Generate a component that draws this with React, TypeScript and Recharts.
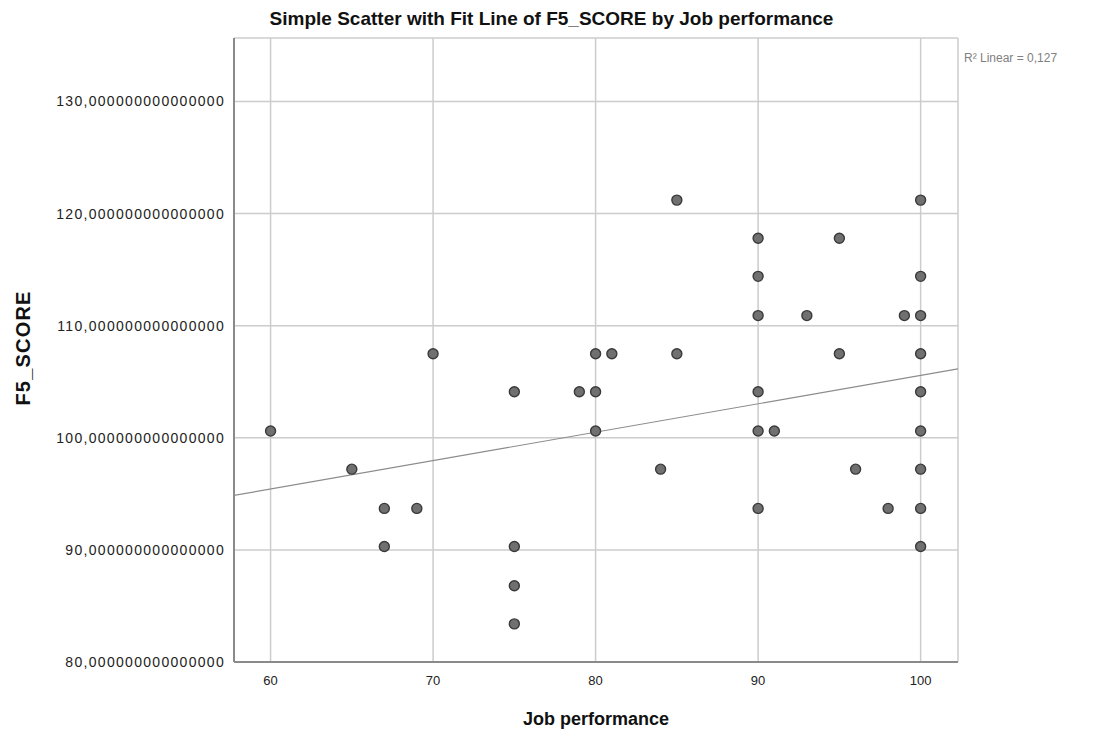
import { CartesianGrid, Scatter, ScatterChart, XAxis, YAxis } from "recharts";

// Job performance (x) and F5_SCORE (y)
const jobPerformance = [
  60, 65, 67, 67, 69, 70, 75, 75, 75, 75, 79, 80, 80, 80, 81, 84, 85, 85,
  90, 90, 90, 90, 90, 90, 91, 93, 95, 95, 96, 98, 99,
  100, 100, 100, 100, 100, 100, 100, 100, 100,
];
const f5Score = [
  100.6, 97.2, 93.7, 90.3, 93.7, 107.5, 104.1, 90.3, 86.8, 83.4, 104.1, 107.5, 104.1, 100.6, 107.5, 97.2, 121.2, 107.5,
  117.8, 114.4, 110.9, 104.1, 100.6, 93.7, 100.6, 110.9, 117.8, 107.5, 97.2, 93.7, 110.9,
  121.2, 114.4, 110.9, 107.5, 104.1, 100.6, 97.2, 93.7, 90.3,
];

// fit line end points
const fitX = [57.75, 102.3];
const fitY = [94.86, 106.15];

const xTicks = [60, 70, 80, 90, 100];
const yTicks = [80, 90, 100, 110, 120, 130];

const points = jobPerformance.map((x, i) => ({ x, y: f5Score[i] }));
const fit = fitX.map((x, i) => ({ x, y: fitY[i] }));

const font = "'Liberation Sans', Arial, sans-serif";

const Dot = (props: { cx?: number; cy?: number }) => {
  const { cx = 0, cy = 0 } = props;
  return <circle cx={cx} cy={cy} r={5} fill="#707070" stroke="#3a3a3a" strokeWidth={1.4} />;
};

export default function App() {
  return (
    <div style={{ position: "absolute", left: 0, top: 0, width: 1103, height: 740, background: "#fff", fontFamily: font }}>
      <div style={{ position: "absolute", left: 0, width: 1103, top: 8, textAlign: "center", fontSize: 19, fontWeight: "bold", color: "#111" }}>
        Simple Scatter with Fit Line of F5_SCORE by Job performance
      </div>
      <div style={{ position: "absolute", left: 964, top: 51, fontSize: 12, color: "#808080" }}>R² Linear = 0,127</div>
      <div
        style={{
          position: "absolute", left: 23, top: 348, transform: "translate(-50%, -50%) rotate(-90deg)",
          fontSize: 20, fontWeight: "bold", color: "#111", whiteSpace: "nowrap", letterSpacing: 1.2,
        }}
      >
        F5_SCORE
      </div>
      <div style={{ position: "absolute", left: 596, top: 709, transform: "translateX(-50%)", fontSize: 18, fontWeight: "bold", color: "#111", whiteSpace: "nowrap" }}>
        Job performance
      </div>
      <ScatterChart width={1103} height={740} margin={{ top: 38, right: 145, bottom: 38, left: 0 }}>
        <CartesianGrid stroke="#cccccc" strokeWidth={1.5} />
        <XAxis
          type="number"
          dataKey="x"
          domain={[57.75, 102.3]}
          ticks={xTicks}
          height={40}
          tickLine={false}
          tickSize={0}
          tickMargin={14}
          axisLine={{ stroke: "#8a8a8a", strokeWidth: 2 }}
          tick={{ fill: "#222", fontSize: 13, fontFamily: font }}
          allowDataOverflow
        />
        <YAxis
          type="number"
          dataKey="y"
          domain={[80, 135.66]}
          ticks={yTicks}
          width={234}
          tickLine={false}
          tickSize={0}
          tickMargin={9}
          axisLine={{ stroke: "#8a8a8a", strokeWidth: 2 }}
          tick={{ fill: "#222", fontSize: 14, fontFamily: font, letterSpacing: 1.3 }}
          tickFormatter={(v: number) => v.toFixed(15).replace(".", ",")}
          allowDataOverflow
        />
        <Scatter data={fit} line={{ stroke: "#8c8c8c", strokeWidth: 1.2 }} shape={() => null} isAnimationActive={false} />
        <Scatter data={points} shape={<Dot />} isAnimationActive={false} />
      </ScatterChart>
    </div>
  );
}
